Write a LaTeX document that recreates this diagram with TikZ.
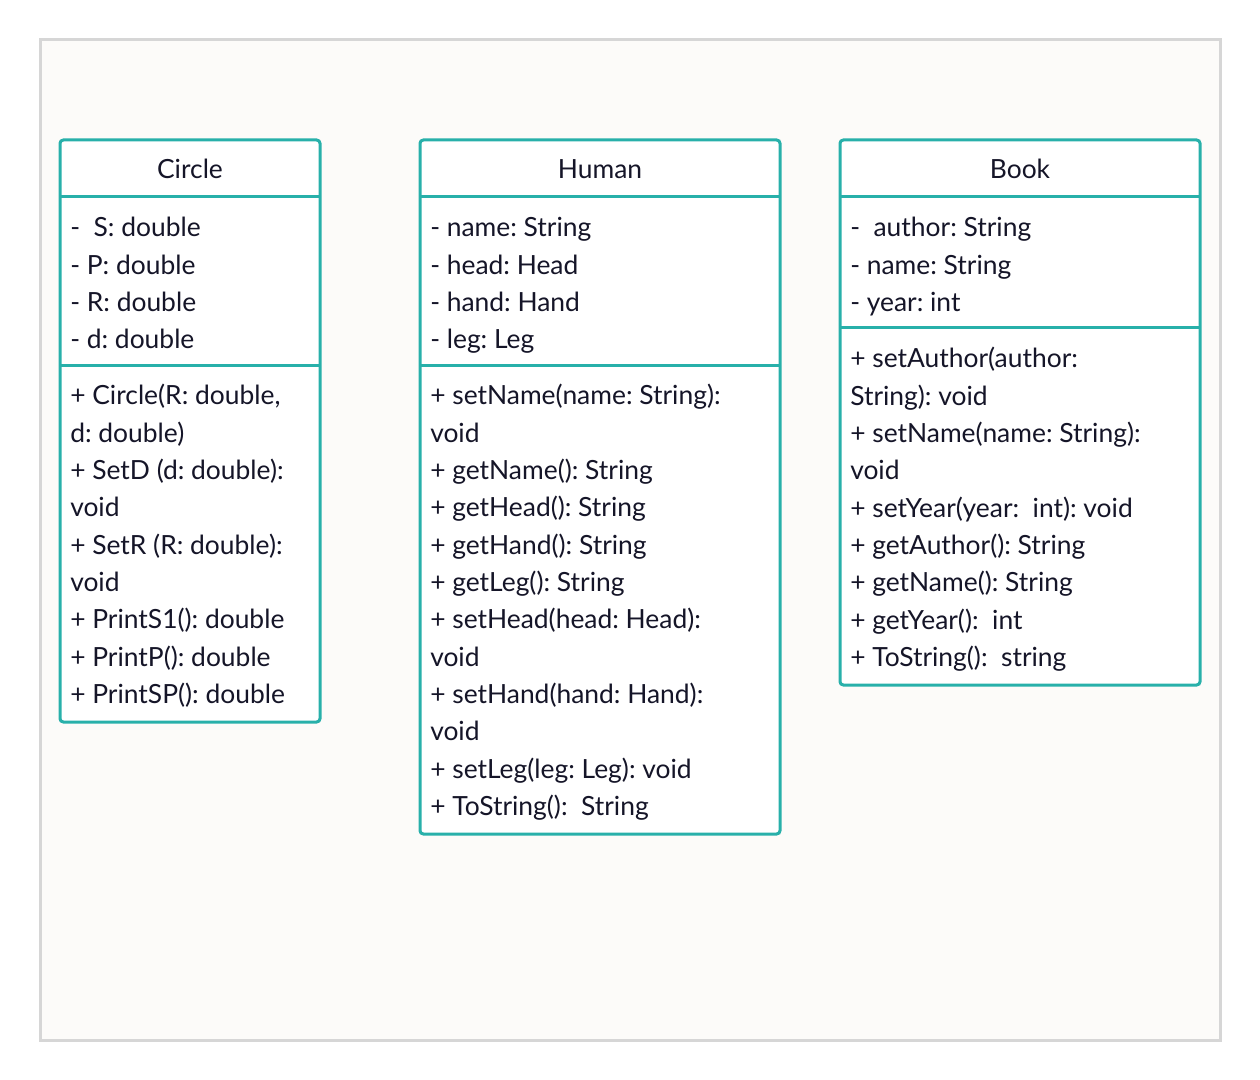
\documentclass[tikz,border=0pt]{standalone}
\usepackage{fontspec}
\setmainfont{Lato}
\frenchspacing
\definecolor{teal2}{HTML}{28B0AA}
\definecolor{framegray}{HTML}{D6D6D6}
\definecolor{bgc}{HTML}{FCFBF9}
\definecolor{ink}{HTML}{151528}
\tikzset{
  frame/.style={draw=framegray, line width=2.25pt, fill=bgc},
  classbox/.style={draw=teal2, line width=2.25pt, fill=white, rounded corners=2.5pt},
  divider/.style={draw=teal2, line width=2.25pt},
  txt/.style={inner sep=0pt, anchor=base west, text=ink, font=\fontsize{19.8}{24}\selectfont\frenchspacing},
  hdr/.style={inner sep=0pt, anchor=base, text=ink, font=\fontsize{19.8}{24}\selectfont\frenchspacing},
}
\begin{document}
\begin{tikzpicture}[x=0.75pt,y=-0.75pt]
\useasboundingbox (0,0) rectangle (1260,1080);
\draw[frame] (40,40) rectangle (1220,1040);
% Circle
\draw[classbox] (60,140) rectangle (320,722);
\draw[divider] (60,197) -- (320,197);
\draw[divider] (60,366) -- (320,366);
\node[hdr] (ctitle) at (190,179) {Circle};
\foreach \t [count=\i] in {{-\ \ S: double},{- P: double},{- R: double},{- d: double}}
  \node[txt] (cattr\i) at (70,{237+37.3*(\i-1)}) {\t};
\foreach \t [count=\i] in {{+ Circle(R: double,},{d: double)},{+ SetD (d: double):},{void},{+ SetR (R: double):},{void},{+ PrintS1(): double},{+ PrintP(): double},{+ PrintSP(): double}}
  \node[txt] (cmeth\i) at (70,{405+37.3*(\i-1)}) {\t};
% Human
\draw[classbox] (420,140) rectangle (780,834);
\draw[divider] (420,197) -- (780,197);
\draw[divider] (420,366) -- (780,366);
\node[hdr] (htitle) at (600,179) {Human};
\foreach \t [count=\i] in {{- name: String},{- head: Head},{- hand: Hand},{- leg: Leg}}
  \node[txt] (hattr\i) at (430,{237+37.3*(\i-1)}) {\t};
\foreach \t [count=\i] in {{+ setName(name: String):},{void},{+ getName(): String},{+ getHead(): String},{+ getHand(): String},{+ getLeg(): String},{+ setHead(head: Head):},{void},{+ setHand(hand: Hand):},{void},{+ setLeg(leg: Leg): void},{+ ToString():\ \ String}}
  \node[txt] (hmeth\i) at (430,{405+37.3*(\i-1)}) {\t};
% Book
\draw[classbox] (840,140) rectangle (1200,685);
\draw[divider] (840,197) -- (1200,197);
\draw[divider] (840,328) -- (1200,328);
\node[hdr] (btitle) at (1020,179) {Book};
\foreach \t [count=\i] in {{-\ \ author: String},{- name: String},{- year: int}}
  \node[txt] (battr\i) at (850,{237+37.3*(\i-1)}) {\t};
\foreach \t [count=\i] in {{+ setAuthor(author:},{String): void},{+ setName(name: String):},{void},{+ setYear(year:\ \ int): void},{+ getAuthor(): String},{+ getName(): String},{+ getYear():\ \ int},{+ ToString():\ \ string}}
  \node[txt] (bmeth\i) at (850,{368+37.3*(\i-1)}) {\t};
\end{tikzpicture}
\end{document}
